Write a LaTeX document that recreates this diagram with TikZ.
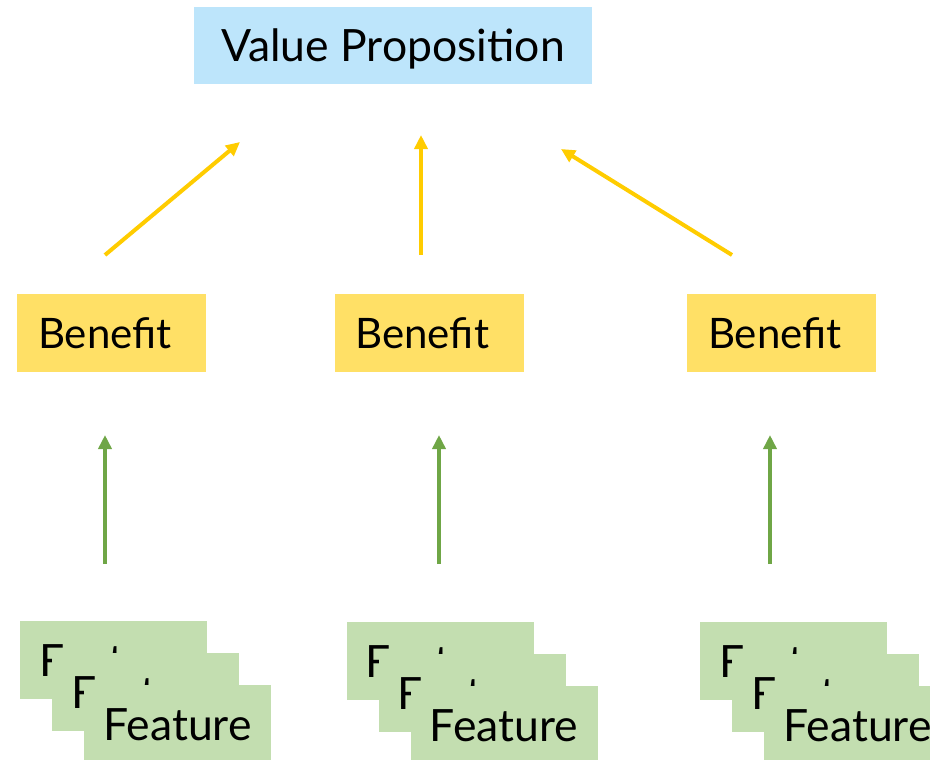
\documentclass[tikz,border=0pt]{standalone}
\usepackage{fontspec}
\setmainfont{Lato}
\usetikzlibrary{arrows.meta}
\definecolor{vpblue}{HTML}{BDE5FB}
\definecolor{benyellow}{HTML}{FFE066}
\definecolor{featgreen}{HTML}{C3DEB0}
\definecolor{arrowyellow}{HTML}{FFCC00}
\definecolor{arrowgreen}{HTML}{6FA646}
\tikzset{
  box/.style={inner sep=0pt, text height=31pt, text depth=0pt, font=\fontsize{42}{48}\selectfont, align=center},
  vpbox/.style={box, fill=vpblue, minimum width=398pt, minimum height=77pt, font=\fontsize{44.5}{50}\selectfont, text height=32pt},
  benbox/.style={box, fill=benyellow, minimum width=189pt, minimum height=78pt, text width=147pt, align=left},
  featbox/.style={box, fill=featgreen, minimum width=187pt, minimum height=78pt, font=\fontsize{44.5}{50}\selectfont, text height=32pt},
  yarrow/.style={draw=arrowyellow, line width=4pt, -{Triangle[length=14pt,width=13pt]}},
  garrow/.style={draw=arrowgreen, line width=4pt, -{Triangle[length=14pt,width=13pt]}}
}
\begin{document}
\begin{tikzpicture}[x=1pt,y=-1pt]
\useasboundingbox (0,0) rectangle (930,760);
\node[vpbox] (vp) at (393,45.5) {Value Proposition};
\node[benbox] (b1) at (111.5,333) {Benefit};
\node[benbox] (b2) at (429,333) {Benefit};
\node[benbox] (b3) at (781.5,333) {Benefit};
% feature stacks
\node[featbox] (f11) at (113.5,660) {Feature};
\node[featbox] (f12) at (145.5,692) {Feature};
\node[featbox] (f13) at (177.5,724) {Feature};
\node[featbox] (f21) at (440,661) {Feature};
\node[featbox] (f22) at (472,693) {Feature};
\node[featbox] (f23) at (504,725) {Feature};
\node[featbox] (f31) at (793.5,661) {Feature};
\node[featbox] (f32) at (825.5,693) {Feature};
\node[featbox] (f33) at (857.5,725) {Feature};
% arrow endpoints
\coordinate (y1s) at (105,255);
\coordinate (y1e) at (240,142);
\coordinate (y2s) at (421,255);
\coordinate (y2e) at (421,135);
\coordinate (y3s) at (732,255);
\coordinate (y3e) at (561,149);
\coordinate (g1s) at (105,564);
\coordinate (g1e) at (105,435);
\coordinate (g2s) at (439,564);
\coordinate (g2e) at (439,435);
\coordinate (g3s) at (770,564);
\coordinate (g3e) at (770,435);
\draw[yarrow] (y1s) -- (y1e);
\draw[yarrow] (y2s) -- (y2e);
\draw[yarrow] (y3s) -- (y3e);
\draw[garrow] (g1s) -- (g1e);
\draw[garrow] (g2s) -- (g2e);
\draw[garrow] (g3s) -- (g3e);
\end{tikzpicture}
\end{document}
